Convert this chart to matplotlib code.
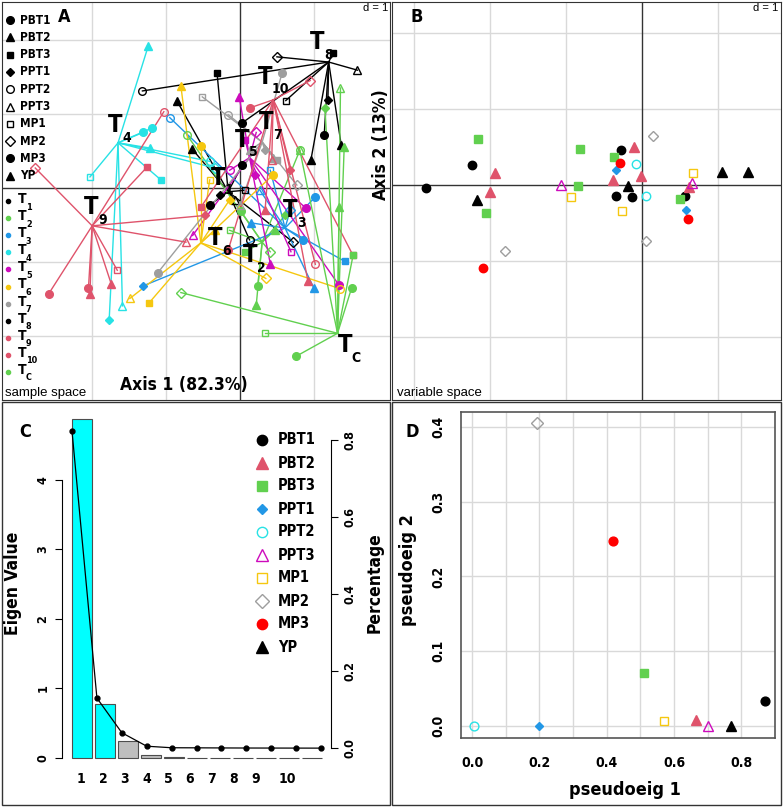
import numpy as np
import matplotlib
matplotlib.use("Agg")
import matplotlib.pyplot as plt
from matplotlib import font_manager as fm
from matplotlib.patches import Rectangle

W, H = 783, 807

# pick a narrow bold face if one is installed
_entries = fm.fontManager.ttflist
_names = {f.name for f in _entries}
if "Liberation Sans Narrow" in _names:
    plt.rcParams["font.family"] = ["Liberation Sans Narrow", "DejaVu Sans"]
elif any(f.name == "DejaVu Sans" and f.stretch == "condensed" for f in _entries):
    plt.rcParams["font.family"] = ["DejaVu Sans"]
    plt.rcParams["font.stretch"] = "condensed"
else:
    plt.rcParams["font.family"] = ["Roboto", "DejaVu Sans"]
plt.rcParams["font.weight"] = "bold"

# ---- variables (shapes / colours) ----
VARS = ["PBT1", "PBT2", "PBT3", "PPT1", "PPT2", "PPT3", "MP1", "MP2", "MP3", "YP"]
VAR_MARK = ["o", "^", "s", "D", "o", "^", "s", "D", "o", "^"]
VAR_FILL = [True, True, True, True, False, False, False, False, True, True]
VAR_COLORS = ["black", "#DF536B", "#61D04F", "#2297E6", "#28E2E5",
              "#CD0BBC", "#F5C710", "#9E9E9E", "#FF0000", "black"]

# ---- panel A: sample space, one point per variable in each treatment ----
GROUPS = ["1", "2", "3", "4", "5", "6", "7", "8", "9", "10", "C"]
GROUP_COLORS = ["black", "#61D04F", "#2297E6", "#28E2E5", "#CD0BBC", "#F5C710",
                "#9E9E9E", "black", "#DF536B", "#DF536B", "#61D04F"]
CENTROIDS = [(-0.16, -0.05), (0.30, -0.73), (0.61, -0.54), (-1.65, 0.61),
             (0.13, 0.41), (-0.53, -0.74), (0.30, 0.62), (1.20, 1.70),
             (-2.00, -0.51), (0.45, 1.19), (1.32, -1.96)]
LABEL_POS = [(-0.30, 0.14), (0.14, -0.91), (0.68, -0.30), (-1.69, 0.85),
             (0.03, 0.65), (-0.34, -0.68), (0.36, 0.89), (1.05, 1.97),
             (-2.01, -0.26), (0.34, 1.50), (1.42, -2.12)]
# order of points: PBT1, PBT2, PBT3, PPT1, PPT2, PPT3, MP1, MP2, MP3, YP
T1 = [(-0.41, -0.23), (-0.85, 1.17), (-0.31, 1.55), (-0.27, -0.09), (0.13, -0.70),
      (-0.07, -0.16), (0.07, -0.03), (0.72, -0.73), (0.03, 0.31), (-0.65, 0.53)]
T2 = [(0.24, -1.32), (0.22, -1.58), (0.07, -0.86), (0.61, -0.37), (-0.72, 0.72),
      (0.81, 0.51), (-0.14, -0.57), (0.41, -0.86), (0.01, -0.31), (0.47, -0.57)]
T3 = [(1.02, -0.12), (0.15, -0.47), (1.42, -0.99), (-1.31, -1.32), (-0.95, 0.95),
      (0.27, -0.03), (0.41, 0.24), (0.68, -0.30), (0.85, -0.70), (1.00, -1.35)]
T4 = [(-1.19, 0.81), (-1.22, 0.54), (-1.07, 0.11), (-1.77, -1.78), (-0.41, 0.36),
      (-1.59, -1.59), (-2.03, 0.15), (-0.34, 0.27), (-1.31, 0.75), (-1.24, 1.92)]
T5 = [(0.89, -0.27), (0.41, -1.02), (0.07, 0.65), (0.20, 0.18), (-0.14, 0.24),
      (-0.64, -0.64), (0.69, -0.86), (0.22, 0.75), (1.34, -1.31), (-0.01, 1.23)]
T6 = [(0.45, 0.18), (-0.34, -0.57), (-1.23, -1.55), (-0.14, -0.16), (1.36, -1.36),
      (-1.49, -1.49), (-0.41, 0.11), (0.35, -1.22), (-0.53, 0.57), (-0.80, 1.38)]
T7 = [(0.57, 1.55), (0.45, 0.41), (0.50, 0.38), (0.34, 0.51), (-0.16, 0.99),
      (0.00, -0.23), (-0.51, 1.23), (0.77, 0.04), (-1.11, -1.14), (0.13, 0.51)]
T8 = [(0.03, 0.88), (0.96, 0.38), (1.26, 1.82), (1.19, 1.19), (-1.32, 1.31),
      (1.59, 1.59), (0.62, 1.18), (0.50, 1.77), (1.14, 0.72), (1.37, 0.58)]
T9 = [(-2.59, -1.43), (-2.03, -1.43), (-1.26, 0.28), (-0.47, -0.37), (-1.03, 1.03),
      (-0.73, -0.73), (-1.66, -1.11), (-2.77, 0.27), (-2.05, -1.35), (-1.74, -1.30)]
T10 = [(-0.16, -0.84), (0.92, -1.26), (-0.53, -0.26), (0.68, 0.24), (1.02, -1.03),
       (0.43, 0.38), (1.53, -0.91), (0.95, 1.45), (0.13, 1.08), (0.34, -0.30)]
TC = [(0.76, -2.27), (1.41, 0.55), (1.53, -0.91), (1.15, 1.08), (0.81, 0.51),
      (1.36, 1.35), (0.34, -1.96), (-0.80, -1.41), (1.51, -1.35), (1.34, -0.26)]
GROUP_POINTS = [T1, T2, T3, T4, T5, T6, T7, T8, T9, T10, TC]

# ---- panel B: variable space ----
B_PBT1 = [(-2.24, 0.26), (-2.84, -0.04), (-0.28, 0.46), (-0.34, -0.14), (-0.13, -0.16), (0.57, -0.14)]
B_PBT2 = [(-1.93, 0.16), (-2.00, -0.09), (-0.11, 0.50), (-0.01, 0.12), (-0.38, 0.07), (0.62, -0.03)]
B_PBT3 = [(-2.16, 0.61), (-2.05, -0.37), (-0.84, -0.01), (-0.82, 0.47), (-0.37, 0.37), (0.50, -0.18)]
B_PPT1 = [(-0.34, 0.20), (0.58, -0.33)]
B_PPT2 = [(-0.08, 0.28), (0.05, -0.14)]
B_PPT3 = [(-1.07, 0.00), (0.66, 0.03)]
B_MP1 = [(-0.93, -0.16), (-0.26, -0.34), (0.67, 0.16)]
B_MP2 = [(-1.80, -0.87), (0.14, 0.64), (0.05, -0.74)]
B_MP3 = [(-2.09, -1.09), (-0.29, 0.29), (0.61, -0.45)]
B_YP = [(-2.17, -0.20), (-0.18, -0.01), (1.05, 0.17), (1.39, 0.17)]
B_POINTS = [B_PBT1, B_PBT2, B_PBT3, B_PPT1, B_PPT2, B_PPT3, B_MP1, B_MP2, B_MP3, B_YP]

# ---- panel C: eigenvalues / percentage ----
AXES_NO = np.arange(1, 12)
EIGEN = [4.88, 0.78, 0.245, 0.04, 0.008, 0.006, 0.005, 0.004, 0.003, 0.002, 0.001]
PERCENT = [0.823, 0.13, 0.04, 0.005, 0.001, 0.0008, 0.0005, 0.0003, 0.0002, 0.0001, 0.0]
BAR_COLORS = ["#00FFFF", "#00FFFF"] + ["#BEBEBE"] * 9
XLAB_POS = [0.96, 1.91, 2.84, 3.82, 4.75, 5.70, 6.65, 7.61, 8.57, 9.91]
XLAB = [str(i) for i in range(1, 11)]

# ---- panel D: pseudo eigenvalues ----
PSEUDO1 = [0.87, 0.665, 0.51, 0.20, 0.005, 0.70, 0.57, 0.192, 0.42, 0.77]
PSEUDO2 = [0.034, 0.008, 0.071, 0.0, 0.0, 0.0, 0.007, 0.405, 0.248, 0.0]


def rect(x0, y0, x1, y1):
    return [x0 / W, 1 - y1 / H, (x1 - x0) / W, (y1 - y0) / H]


def msize(m, fill, scale=1.0):
    if m == "D":
        s = 3.6 if fill else 5.0
    elif m == "s":
        s = 5.0
    elif m == "^":
        s = 6.0
    else:
        s = 5.5
    return s * scale


def draw_mark(ax, x, y, m, fill, color, scale=1.0, **kw):
    ax.plot(x, y, ls="none", marker=m, ms=msize(m, fill, scale),
            mfc=color if fill else "none", mec=color, mew=1.0, **kw)


fig = plt.figure(figsize=(W / 100, H / 100), dpi=100)

# ================= Panel A =================
axa = fig.add_axes(rect(2, 2, 390, 400))
axa.set_xlim(-3.22, 2.03)
axa.set_ylim(-2.86, 2.51)
for g in [-2, -1, 1]:
    axa.axvline(g, color="#D9D9D9", lw=1, zorder=0)
for g in [-2, -1, 1, 2]:
    axa.axhline(g, color="#D9D9D9", lw=1, zorder=0)
axa.axvline(0, color="#333333", lw=1, zorder=1)
axa.axhline(0, color="#333333", lw=1, zorder=1)
axa.set_xticks([])
axa.set_yticks([])
for sp in axa.spines.values():
    sp.set_color("#333333")

for pts, cen, col in zip(GROUP_POINTS, CENTROIDS, GROUP_COLORS):
    for (px, py) in pts:
        axa.plot([cen[0], px], [cen[1], py], color=col, lw=1.0, zorder=2)
for pts, col in zip(GROUP_POINTS, GROUP_COLORS):
    for (px, py), m, f in zip(pts, VAR_MARK, VAR_FILL):
        draw_mark(axa, px, py, m, f, col, zorder=3)
for lab, (lx, ly) in zip(GROUPS, LABEL_POS):
    axa.text(lx, ly, "T", fontsize=17, ha="center", va="center", zorder=5)
    axa.annotate(lab, (lx, ly), xytext=(5, -9), textcoords="offset points",
                 fontsize=10, ha="left", va="center", zorder=5)

# ================= Panel B =================
axb = fig.add_axes(rect(392, 2, 781, 400))
axb.set_xlim(-3.29, 1.83)
axb.set_ylim(-2.83, 2.41)
for g in [-3, -2, -1, 1]:
    axb.axvline(g, color="#D9D9D9", lw=1, zorder=0)
for g in [-2, -1, 1, 2]:
    axb.axhline(g, color="#D9D9D9", lw=1, zorder=0)
axb.axvline(0, color="#333333", lw=1, zorder=1)
axb.axhline(0, color="#333333", lw=1, zorder=1)
axb.set_xticks([])
axb.set_yticks([])
for sp in axb.spines.values():
    sp.set_color("#333333")
for pts, m, f, col in zip(B_POINTS, VAR_MARK, VAR_FILL, VAR_COLORS):
    for (px, py) in pts:
        draw_mark(axb, px, py, m, f, col, scale=1.1, zorder=3)

# ================= Panel C =================
axc = fig.add_axes(rect(62, 415, 331, 762))
axc.bar(AXES_NO, EIGEN, width=0.87, color=BAR_COLORS, edgecolor="#4D4D4D", lw=0.8)
axc.set_xlim(0.13, 11.83)
axc.set_ylim(-0.058, 4.935)
for s in ["top", "right", "bottom"]:
    axc.spines[s].set_visible(False)
axc.spines["left"].set_bounds(0, 4)
axc.set_yticks([0, 1, 2, 3, 4])
axc.set_yticklabels(["0", "1", "2", "3", "4"], rotation=90, va="center")
axc.tick_params(axis="y", direction="out", length=5, pad=4, labelsize=9)
axc.set_xticks(XLAB_POS)
axc.set_xticklabels(XLAB)
axc.tick_params(axis="x", length=0, pad=7, labelsize=10)
axc.patch.set_alpha(0)

axl = fig.add_axes(rect(62, 415, 331, 762))
axl.patch.set_alpha(0)
axl.plot(AXES_NO, PERCENT, color="black", lw=0.9, marker="o", ms=3.5)
axl.set_xlim(0.598, 11.40)
axl.set_ylim(-0.036, 0.865)
for s in ["top", "left", "bottom"]:
    axl.spines[s].set_visible(False)
axl.spines["right"].set_bounds(0, 0.8)
axl.set_xticks([])
axl.yaxis.tick_right()
axl.set_yticks([0, 0.2, 0.4, 0.6, 0.8])
axl.set_yticklabels(["0.0", "0.2", "0.4", "0.6", "0.8"], rotation=90, va="center")
axl.tick_params(axis="y", direction="out", length=5, pad=4, labelsize=9)

# ================= Panel D =================
axd = fig.add_axes(rect(461, 412, 775, 738))
axd.set_xlim(-0.033, 0.9)
axd.set_ylim(-0.016, 0.42)
for g in np.arange(0, 0.85, 0.1):
    axd.axvline(g, color="#D9D9D9", lw=1, zorder=0)
for g in np.arange(0, 0.45, 0.1):
    axd.axhline(g, color="#D9D9D9", lw=1, zorder=0)
for x, y, m, f, col in zip(PSEUDO1, PSEUDO2, VAR_MARK, VAR_FILL, VAR_COLORS):
    draw_mark(axd, x, y, m, f, col, scale=1.15, zorder=3)
axd.set_xticks([0, 0.2, 0.4, 0.6, 0.8])
axd.set_xticklabels(["0.0", "0.2", "0.4", "0.6", "0.8"])
axd.set_yticks([0, 0.1, 0.2, 0.3, 0.4])
axd.set_yticklabels(["0.0", "0.1", "0.2", "0.3", "0.4"], rotation=90, va="center")
axd.tick_params(axis="x", length=0, pad=13, labelsize=10)
axd.tick_params(axis="y", length=0, pad=11, labelsize=10)
for sp in axd.spines.values():
    sp.set_color("#555555")
    sp.set_linewidth(1.2)

# ================= overlay (pixel coordinates) =================
ov = fig.add_axes([0, 0, 1, 1], zorder=10)
ov.set_xlim(0, W)
ov.set_ylim(H, 0)
ov.axis("off")
ov.patch.set_alpha(0)

ov.add_patch(Rectangle((2, 402), 388, 403, fill=False, ec="#333333", lw=1))
ov.add_patch(Rectangle((392, 402), 389, 403, fill=False, ec="#333333", lw=1))

reg = dict(family=["Liberation Sans", "DejaVu Sans"], weight="normal", stretch="normal")

# panel A texts and legends
ov.text(64, 17, "A", fontsize=13, ha="center", va="center")
ov.text(388, 8, "d = 1", fontsize=8, ha="right", va="center", **reg)
ov.text(5, 393, "sample space", fontsize=9.5, ha="left", va="center", **reg)
ov.text(184, 385, "Axis 1 (82.3%)", fontsize=12.5, ha="center", va="center")
ov.text(381, 145, "Axis 2 (13%)", fontsize=12.5, ha="center", va="center", rotation=90)
for i, (v, m, f) in enumerate(zip(VARS, VAR_MARK, VAR_FILL)):
    y = 20 + 17.3 * i
    draw_mark(ov, 10, y, m, f, "black")
    ov.text(20, y, v, fontsize=8.5, ha="left", va="center")
for i, (g, col) in enumerate(zip(GROUPS, GROUP_COLORS)):
    y = 201 + 17.1 * i
    ov.plot(8, y, "o", color=col, ms=3)
    ov.text(22, y - 2, "T", fontsize=10, ha="center", va="center")
    ov.text(26, y + 6, g, fontsize=6.5, ha="left", va="center")

# panel B texts
ov.text(417, 17, "B", fontsize=13, ha="center", va="center")
ov.text(778, 8, "d = 1", fontsize=8, ha="right", va="center", **reg)
ov.text(397, 393, "variable space", fontsize=9.5, ha="left", va="center", **reg)

# panel C texts and legend
ov.text(25, 432, "C", fontsize=13, ha="center", va="center")
ov.text(13, 583, "Eigen Value", fontsize=12.5, ha="center", va="center", rotation=90)
ov.text(375, 583, "Percentage", fontsize=12.5, ha="center", va="center", rotation=90)
for i, (v, m, f, col) in enumerate(zip(VARS, VAR_MARK, VAR_FILL, VAR_COLORS)):
    y = 440 + 23 * i
    draw_mark(ov, 262, y, m, f, col, scale=1.35)
    ov.text(278, y, v, fontsize=10.5, ha="left", va="center")

# panel D texts
ov.text(412, 432, "D", fontsize=13, ha="center", va="center")
ov.text(625, 790, "pseudoeig 1", fontsize=13, ha="center", va="center")
ov.text(408, 570, "pseudoeig 2", fontsize=13, ha="center", va="center", rotation=90)

fig.savefig("out.png", dpi=100)
